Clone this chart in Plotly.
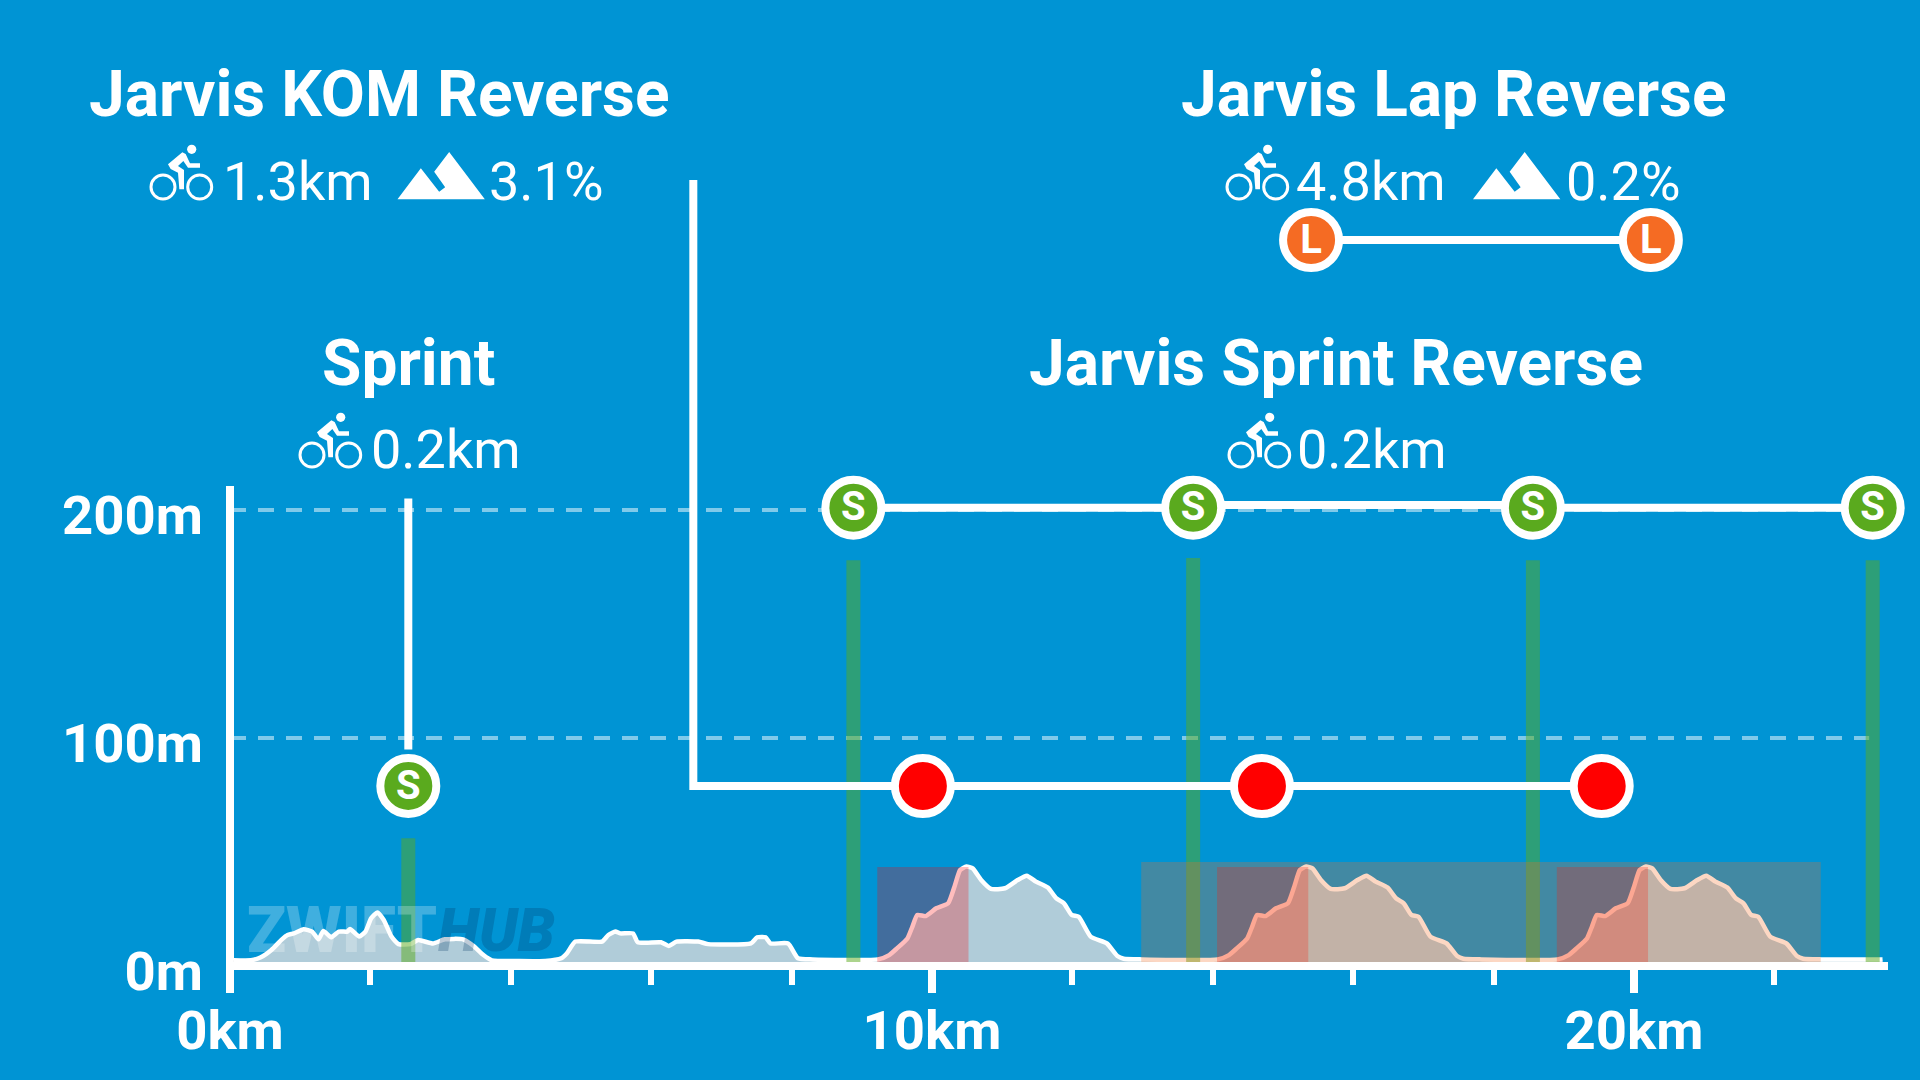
# Jarvis route profile card with segment markers
import plotly.graph_objects as go

# route profile, km / metres
profile_km = [0.05, 0.30, 0.44, 0.59, 0.74, 0.82, 0.91, 1.05, 1.17, 1.26, 1.33, 1.44, 1.55, 1.67, 1.71, 1.84, 1.93,
              2.01, 2.10, 2.19, 2.30, 2.40, 2.57, 2.68, 2.89, 3.06, 3.32, 3.47, 3.61, 3.73, 4.11, 4.49, 4.72, 4.80,
              4.92, 5.30, 5.39, 5.49, 5.56, 5.74, 5.81, 6.14, 6.25, 6.36, 6.67, 6.81, 7.42, 7.51, 7.63, 7.70, 7.95,
              8.09, 8.30,
              9.23, 9.39, 9.50, 9.65, 9.72, 9.79, 9.91, 10.06, 10.23, 10.32, 10.40, 10.49, 10.58, 10.70, 10.84, 11.04,
              11.22, 11.35, 11.48, 11.65, 11.77, 11.88, 11.99, 12.09, 12.26, 12.49, 12.64, 12.73, 12.99,
              14.07, 14.23, 14.34, 14.49, 14.56, 14.63, 14.75, 14.90, 15.07, 15.16, 15.24, 15.33, 15.42, 15.54, 15.68,
              15.88, 16.06, 16.19, 16.32, 16.49, 16.61, 16.72, 16.83, 16.93, 17.10, 17.33, 17.48, 17.57, 17.83,
              18.91, 19.07, 19.18, 19.33, 19.40, 19.47, 19.59, 19.74, 19.91, 20.00, 20.08, 20.17, 20.26, 20.38, 20.52,
              20.72, 20.90, 21.03, 21.16, 21.33, 21.45, 21.56, 21.67, 21.77, 21.94, 22.17, 22.32, 22.41, 22.67, 23.54]
profile_m = [2.5, 2.5, 3.8, 7.0, 11.7, 13.6, 14.3, 16.1, 15.1, 11.7, 15.4, 12.6, 15.1, 15.1, 16.2, 12.9, 15.1,
             20.9, 23.5, 20.2, 12.9, 9.6, 9.6, 11.4, 9.9, 11.7, 11.7, 8.8, 4.8, 2.5, 2.2, 2.2, 3.4, 5.6,
             10.7, 10.7, 13.6, 15.1, 14.3, 14.3, 10.4, 10.4, 8.8, 10.7, 10.7, 9.6, 9.9, 12.6, 12.6, 9.9, 9.9,
             3.4, 2.9,
             2.9, 4.8, 7.7, 12.1, 17.2, 22.4, 21.9, 25.3, 27.5, 34.8, 42.1, 43.6, 42.8, 37.7, 33.8, 34.1,
             37.7, 39.6, 37.0, 34.4, 29.7, 27.5, 22.4, 21.6, 12.9, 9.9, 4.4, 3.2, 2.9,
             2.9, 4.8, 7.7, 12.1, 17.2, 22.4, 21.9, 25.3, 27.5, 34.8, 42.1, 43.6, 42.8, 37.7, 33.8,
             34.1, 37.7, 39.6, 37.0, 34.4, 29.7, 27.5, 22.4, 21.6, 12.9, 9.9, 4.4, 3.2, 2.9,
             2.9, 4.8, 7.7, 12.1, 17.2, 22.4, 21.9, 25.3, 27.5, 34.8, 42.1, 43.6, 42.8, 37.7, 33.8,
             34.1, 37.7, 39.6, 37.0, 34.4, 29.7, 27.5, 22.4, 21.6, 12.9, 9.9, 4.4, 3.2, 2.9, 2.9]

x_major = [0, 10, 20]
x_labels = ["0km", "10km", "20km"]
y_major = [0, 100, 200]
y_labels = ["0m", "100m", "200m"]

# sprint banners
sprint_km = [2.54, 8.88, 13.72, 18.56, 23.40]
sprint_top_m = [56, 178, 179, 178, 178]

# segment boxes
kom_start_km = [9.22, 14.06, 18.90]
kom_end_km = [10.52, 15.36, 20.20]
kom_box_m = 43.4
lap_box_km = [12.98, 22.66]
lap_box_m = 45.6

# connector lines + marker circles
short_sprint_x = [2.54, 2.54]
short_sprint_y = [205, 95]
short_sprint_marker_x = [2.54]
short_sprint_marker_y = [79]
sprint_row1_x = [8.88, 13.72]
sprint_row1_y = [201, 201]
sprint_row2_x = [13.72, 18.56]
sprint_row2_y = [202.2, 202.2]
sprint_row3_x = [18.56, 23.40]
sprint_row3_y = [201, 201]
sprint_marker_x = [8.88, 13.72, 18.56, 23.40]
sprint_marker_y = [201, 201, 201, 201]
kom_line_x = [6.6, 6.6, 19.54]
kom_line_y = [344.7, 78.9, 78.9]
kom_marker_x = [9.87, 14.70, 19.54]
kom_marker_y = [78.9, 78.9, 78.9]
lap_x = [15.40, 20.24]
lap_y = [318.4, 318.4]

grid_m = [100, 200]
grid_end_km = 23.35
y_axis_x = [0, 0]
y_axis_y = [0, 210.5]

BG = "#0094d4"
GREEN = "#5aaa1e"
ORANGE = "#f56b23"
FONT = "Roboto"

# plot area in page pixels
LEFT, RIGHT, TOP, BOTTOM = 226, 1888, 0, 966


def px_x(x):
    return (x - LEFT) / (RIGHT - LEFT)


def px_y(y):
    return (BOTTOM - y) / (BOTTOM - TOP)


def label(text, x, y, size, weight=400, anchor="left", color="white", style="normal"):
    return dict(text=text, x=px_x(x), y=px_y(y), xref="paper", yref="paper", showarrow=False,
                xanchor=anchor, yanchor="middle", borderpad=0,
                font=dict(family=FONT, size=size, weight=weight, color=color, style=style))


def poly(points, ox, oy, s=1 / 3):
    path = ""
    for i, (a, b) in enumerate(points):
        path += ("M" if i == 0 else "L") + f"{px_x(ox + a * s):.5f},{px_y(oy + b * s):.5f} "
    return dict(type="path", path=path + "Z", xref="paper", yref="paper", fillcolor="white", line_width=0)


def ring(cx, cy, r, filled=False):
    return dict(type="circle", xref="paper", yref="paper", x0=px_x(cx - r), x1=px_x(cx + r), y0=px_y(cy + r),
                y1=px_y(cy - r), fillcolor="white" if filled else None,
                line=dict(color="white", width=0 if filled else 3))


def bike(x, y):
    # x, y = top left of the icon
    body = [(100, 25), (57, 61), (65, 75), (87, 86), (91, 136), (105, 136), (105, 78), (87, 66), (103, 51),
            (117, 71), (153, 71), (153, 58), (123, 58), (110, 30)]
    return [ring(x + 14, y + 43, 12), ring(x + 50.7, y + 43, 12), ring(x + 42.7, y + 5.3, 4.6, True),
            poly(body, x, y)]


def mountain(x, y):
    # x, y = top left of the icon
    pts = [(0, 142), (70, 49), (125, 119), (143, 106), (110, 59), (155, 0), (262, 142)]
    return [poly(pts, x, y)]


fig = go.Figure()

for m in grid_m:
    fig.add_trace(go.Scatter(x=[0, grid_end_km], y=[m, m], mode="lines",
                             line=dict(color="rgba(255,255,255,0.5)", width=4, dash="16px,12px")))

fig.add_trace(go.Scatter(x=y_axis_x, y=y_axis_y, mode="lines", line=dict(color="white", width=8)))

fig.add_trace(go.Scatter(x=profile_km, y=profile_m, mode="lines", fill="tozeroy", fillcolor="rgba(220,217,217,0.8)",
                         line=dict(color="white", width=4.5, shape="spline", smoothing=0.5)))

banner_x, banner_y = [], []
for k, h in zip(sprint_km, sprint_top_m):
    banner_x += [k, k, None]
    banner_y += [0, h, None]
fig.add_trace(go.Scatter(x=banner_x, y=banner_y, mode="lines", line=dict(color="rgba(90,170,28,0.5)", width=14)))

for lx, ly in [(short_sprint_x, short_sprint_y), (sprint_row1_x, sprint_row1_y), (sprint_row2_x, sprint_row2_y),
               (sprint_row3_x, sprint_row3_y), (kom_line_x, kom_line_y), (lap_x, lap_y)]:
    fig.add_trace(go.Scatter(x=lx, y=ly, mode="lines", cliponaxis=False, line=dict(color="white", width=8)))

letter = dict(family=FONT, size=40, weight=700, color="white")
for mx, my, col, txt in [(short_sprint_marker_x, short_sprint_marker_y, GREEN, "S"),
                         (sprint_marker_x, sprint_marker_y, GREEN, "S"),
                         (kom_marker_x, kom_marker_y, "#ff0000", ""),
                         (lap_x, lap_y, ORANGE, "L")]:
    fig.add_trace(go.Scatter(x=mx, y=my, mode="markers", cliponaxis=False,
                             marker=dict(size=56, color=col, line=dict(color="white", width=8))))
    if txt:
        # the letter sits a bit high in the circle otherwise
        fig.add_trace(go.Scatter(x=mx, y=[v - 1.2 for v in my], mode="text", cliponaxis=False, text=[txt] * len(mx),
                                 textposition="middle center", textfont=letter))

shapes = []
for a, b in zip(kom_start_km, kom_end_km):
    shapes.append(dict(type="rect", xref="x", yref="y", x0=a, x1=b, y0=1.75, y1=kom_box_m,
                       fillcolor="rgba(255,0,0,0.26)", line_width=0))
shapes.append(dict(type="rect", xref="x", yref="y", x0=lap_box_km[0], x1=lap_box_km[1], y0=1.75, y1=lap_box_m,
                   fillcolor="rgba(245,107,35,0.27)", line_width=0))
shapes += bike(149, 144) + mountain(397.5, 152)
shapes += bike(1225, 144) + mountain(1473, 152)
shapes += bike(298, 412) + bike(1227, 412)

texts = [
    label("Jarvis KOM Reverse", 379.6, 94.5, 64, 700, "center"),
    label("Jarvis Lap Reverse", 1454, 94.5, 64, 700, "center"),
    label("Sprint", 408, 363.5, 64, 700, "center"),
    label("Jarvis Sprint Reverse", 1336, 363.5, 64, 700, "center"),
    label("1.3km", 222, 181, 54),
    label("3.1%", 488, 181, 54),
    label("4.8km", 1295, 181, 54),
    label("0.2%", 1565, 181, 54),
    label("0.2km", 369.5, 449, 54),
    label("0.2km", 1296, 449, 54),
    label("ZWIFT", 246, 930, 64, 900, "left", "rgba(255,255,255,0.25)"),
    label("HUB", 437, 930, 60, 900, "left", "rgba(0,50,100,0.25)", "italic"),
]

fig.update_layout(
    width=1920, height=1080, autosize=False, showlegend=False,
    paper_bgcolor=BG, plot_bgcolor=BG,
    margin=dict(l=LEFT, r=1920 - RIGHT, t=TOP, b=1080 - BOTTOM, pad=0),
    shapes=shapes, annotations=texts,
    font=dict(family=FONT, color="white"),
    xaxis=dict(range=[-4 / 70.2, 1658 / 70.2], automargin=False, showgrid=False, showline=False, zeroline=False,
               tickmode="array", tickvals=x_major, ticktext=x_labels, ticks="outside", ticklen=26, tickwidth=8,
               tickcolor="white", tickfont=dict(family=FONT, size=54.5, weight=700, color="white"),
               ticklabelstandoff=-9,
               minor=dict(tick0=0, dtick=2, ticks="outside", ticklen=18, tickwidth=6, tickcolor="white", showgrid=False)),
    yaxis=dict(range=[0, 966 / 2.28], automargin=False, showgrid=False, showline=False, tickmode="array",
               tickvals=y_major, ticktext=y_labels, ticks="",
               tickfont=dict(family=FONT, size=54.5, weight=700, color="white"),
               ticklabelstandoff=22, ticklabelshift=5, zeroline=True, zerolinecolor="white", zerolinewidth=8,
               zerolinelayer="above traces"),
)

fig.write_html("out.html", config=dict(displayModeBar=False),
               post_script="document.body.style.margin='0';document.body.style.background='#0094d4';")
